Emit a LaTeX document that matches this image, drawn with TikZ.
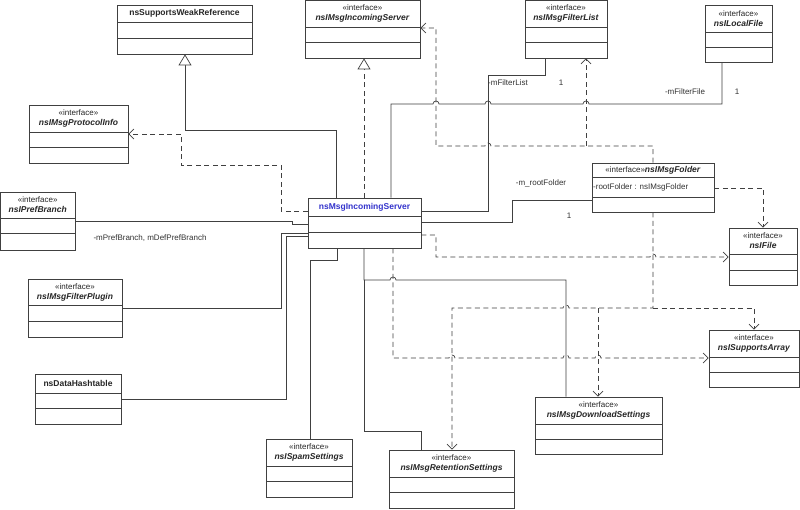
\documentclass[tikz,border=0pt]{standalone}
\usepackage{fontspec}
\setmainfont{Liberation Sans}
\usetikzlibrary{arrows.meta,fit}
\tikzset{
  box/.style={draw=black!75,line width=0.8pt,inner sep=0pt,fill=white},
  ln/.style={draw=black!75,line width=0.7pt},
  dsh/.style={ln,dash pattern=on 5pt off 3.5pt},
  dep/.style={dsh,-{Straight Barb[length=5pt,width=10pt]}},
  gen/.style={ln,-{Triangle[open,length=11pt,width=13pt,fill=white]}},
  lbl/.style={font=\fontsize{8}{9}\selectfont,inner sep=0pt,text=black!80},
  nm/.style={font=\fontsize{8.5}{10}\selectfont\bfseries,text=black!85,inner sep=0pt,align=center}
}
\newcommand\iface[1]{{\mdseries\upshape\fontsize{8}{9}\selectfont «interface»}\\\textit{#1}}
\newcommand\umlbox[8]{%
  \node[box,fit={(#2,#3)(#4,#5)}] (#1) {};
  \draw[ln] (#2,#6)--(#4,#6) (#2,#7)--(#4,#7);
  \node[nm] at ({(#2+#4)/2},{(#3+#6)/2}) {#8};}
\begin{document}
\begin{tikzpicture}[x=1pt,y=-1pt]
\fill[white] (0,0) rectangle (800,509);
\useasboundingbox (0,0) rectangle (800,509);
\umlbox{weak}{117}{5}{252}{54}{22}{38}{nsSupportsWeakReference}
\umlbox{inc}{305}{0.5}{420}{58}{27}{42}{\iface{nsIMsgIncomingServer}}
\umlbox{fl}{525}{0.5}{607}{58}{27}{42}{\iface{nsIMsgFilterList}}
\umlbox{lf}{705}{5}{772}{62}{32}{47}{\iface{nsILocalFile}}
\umlbox{proto}{29}{105}{128}{163}{132}{147}{\iface{nsIMsgProtocolInfo}}
\umlbox{pref}{0.5}{192}{75}{250}{218}{233}{\iface{nsIPrefBranch}}
\umlbox{srv}{308}{198}{421}{248}{216}{232}{\textcolor[rgb]{0.2,0.2,0.8}{nsMsgIncomingServer}}
\umlbox{file}{729}{228}{797}{285}{254}{270}{\iface{nsIFile}}
\umlbox{plugin}{28}{279}{122}{337}{305}{321}{\iface{nsIMsgFilterPlugin}}
\umlbox{hash}{35}{374}{121}{424}{393}{408}{nsDataHashtable}
\umlbox{spam}{266}{439}{352}{497}{466}{481}{\iface{nsISpamSettings}}
\umlbox{ret}{389}{450}{514}{508}{477}{492}{\iface{nsIMsgRetentionSettings}}
\umlbox{dl}{535}{397}{662}{454}{424}{439}{\iface{nsIMsgDownloadSettings}}
\umlbox{sa}{709}{330}{799}{387}{357}{372}{\iface{nsISupportsArray}}
\umlbox{folder}{592}{163}{714}{212}{177}{197}{}
\node[nm] at (653,170) {{\mdseries\fontsize{8}{9}\selectfont «interface»}\textit{nsIMsgFolder}};
\node[lbl,anchor=west] at (593,187) {-rootFolder : nsIMsgFolder};
% generalizations
\draw[gen] (336,0 |- srv.north) -- (336,130) -- (185,130) -- (185,0 |- weak.south);
\draw[gen,dash pattern=on 5pt off 3.5pt] (364,0 |- srv.north) -- (364,0 |- inc.south);
% associations
\draw[dep] (srv.west |- 0,211) -- (281,211) -- (281,165) -- (181,165) -- (181,134) -- (proto.east |- 0,134);
\draw[ln] (pref.east |- 0,221) -- (292,221) -- (292,224) -- (srv.west |- 0,224);
\draw[ln] (srv.west |- 0,233) -- (281,233) -- (281,308) -- (plugin.east |- 0,308);
\draw[ln] (srv.west |- 0,236) -- (286,236) -- (286,399) -- (hash.east |- 0,399);
\draw[ln] (337,0 |- srv.south) -- (337,260) -- (310,260) -- (310,0 |- spam.north);
\draw[ln] (364,0 |- srv.south) -- (364,280) -- (390,280) arc(180:360:3) -- (566,280) -- (566,0 |- dl.north);
\draw[ln] (364,280) -- (364,431) -- (421,431) -- (421,0 |- ret.north);
\draw[dsh,-{Straight Barb[length=5pt,width=10pt]}] (393,0 |- srv.south) -- (393,358) -- (449,358) arc(180:360:3) -- (563,358) arc(180:360:3) -- (595,358) arc(180:360:3) -- (sa.west |- 0,358);
\draw[dep] (srv.east |- 0,235) -- (436,235) -- (436,257) -- (650,257) arc(180:360:3) -- (file.west |- 0,257);
\draw[ln] (srv.east |- 0,211) -- (488,211) -- (488,75) -- (545,75) -- (545,0 |- fl.south);
\draw[ln] (391,0 |- srv.north) -- (391,104) -- (433,104) arc(180:360:3) -- (485,104) arc(180:360:3) -- (583,104) arc(180:360:3) -- (722,104) -- (722,0 |- lf.south);
\draw[ln] (srv.east |- 0,222) -- (512,222) -- (512,200) -- (folder.west |- 0,200);
\draw[dep] (653,0 |- folder.north) -- (653,146) -- (491,146) arc(0:-180:3) -- (436,146) -- (436,28) -- (inc.east |- 0,28);
\draw[dep] (586,146) -- (586,0 |- fl.south);
\draw[dep] (folder.east |- 0,188) -- (763,188) -- (763,0 |- file.north);
\draw[dep] (653,0 |- folder.south) -- (653,308) -- (569,308) arc(0:-180:3) -- (452,308) -- (452,0 |- ret.north);
\draw[dep] (598,308) -- (598,0 |- dl.north);
\draw[dep] (653,308) -- (754,308) -- (754,0 |- sa.north);
% labels
\node[lbl] at (150,238) {-mPrefBranch, mDefPrefBranch};
\node[lbl] at (508,83) {-mFilterList};
\node[lbl] at (561,83) {1};
\node[lbl] at (685,92) {-mFilterFile};
\node[lbl] at (737,92) {1};
\node[lbl] at (541,183) {-m\_rootFolder};
\node[lbl] at (569,216) {1};
\end{tikzpicture}
\end{document}
